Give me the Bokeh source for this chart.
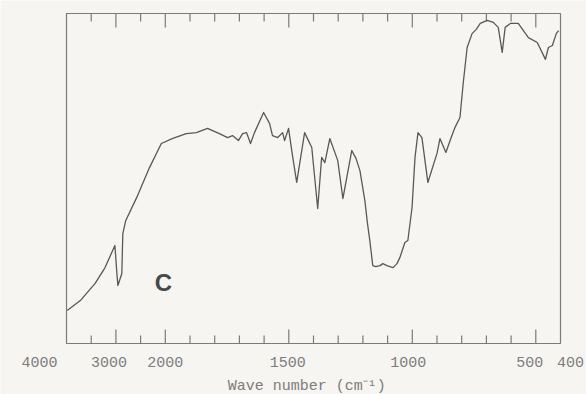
import numpy as np
from bokeh.plotting import figure
from bokeh.models import Range1d, ColumnDataSource
from bokeh.core.properties import value
from bokeh.embed import file_html
from bokeh.resources import INLINE

# IR spectrum, sample C: wavenumber (cm-1) and transmittance (%)
wavenumber = [3986, 3720, 3420, 3220, 3020, 2980, 2960, 2880, 2860, 2800,
              2580, 2320, 2080, 1972, 1915, 1874, 1829, 1781, 1748, 1728,
              1704, 1687, 1671, 1655, 1639, 1602, 1578, 1566, 1545, 1525,
              1517, 1501, 1484, 1468, 1436, 1407, 1383, 1367, 1354, 1334,
              1302, 1281, 1245, 1228, 1212, 1192, 1182, 1172, 1160, 1148,
              1131, 1119, 1103, 1078, 1062, 1050, 1030, 1018, 1001, 989,
              977, 961, 937, 900, 888, 864, 847, 827, 807, 794,
              778, 758, 741, 725, 697, 672, 652, 636, 624, 603,
              571, 530, 494, 461, 449, 433, 417, 408]
transmittance = [10.0, 13.0, 18.2, 23.0, 29.7, 21.2, 17.6, 21.2, 33.3, 37.3,
                 44.2, 53.3, 60.6, 62.1, 63.6, 63.9, 65.2, 63.6, 62.4, 63.0,
                 61.5, 63.6, 63.9, 60.6, 63.9, 70.0, 66.7, 63.0, 62.4, 63.9,
                 61.5, 65.2, 56.4, 48.8, 63.9, 59.4, 40.9, 56.4, 54.8, 62.1,
                 55.5, 43.9, 58.5, 56.1, 52.4, 43.3, 36.7, 31.2, 23.6, 23.3,
                 23.6, 24.2, 23.6, 23.0, 24.2, 26.1, 30.6, 31.2, 41.2, 56.4,
                 63.9, 62.4, 48.8, 57.6, 62.1, 57.9, 61.5, 65.5, 68.5, 78.8,
                 89.7, 93.9, 95.2, 97.0, 97.9, 97.3, 95.8, 88.2, 95.8, 97.0,
                 97.0, 92.7, 91.2, 86.1, 89.7, 90.3, 93.9, 94.8]

major_ticks = [3000, 2000, 1500, 1000, 500]
minor_ticks = [3500, 2500, 1900, 1800, 1700, 1600, 1400, 1300, 1200, 1100,
               900, 800, 700, 600]
tick_labels = [4000, 3000, 2000, 1500, 1000, 500, 400]
label_shift = [-27, -7, 0, -1, -4, -6, 10]

W_MAX, W_BREAK, W_MIN = 4000, 2000, 400
T_MIN, T_MAX = 0, 100


def to_axis(w):
    """Chart scale with a change of scale at 2000 cm-1."""
    w = np.asarray(w, dtype=float)
    return np.where(w >= W_BREAK, (W_MAX - w) / 20.0,
                    100 + (W_BREAK - w) / 4.0)


ink = "#585858"
rule = "#7a7a7a"
paper = "#f6f5f2"

# plot box sits at 66..560 px across and 13..343 px down the 586x394 page
u_lo, u_hi = float(to_axis(W_MAX)), float(to_axis(W_MIN))
px_u = (560 - 66) / (u_hi - u_lo)
px_t = (343 - 13) / (T_MAX - T_MIN)

p = figure(width=586, height=394, output_backend="svg", toolbar_location=None,
           x_range=Range1d(u_lo - 66 / px_u, u_hi + 26 / px_u),
           y_range=Range1d(T_MIN - 51 / px_t, T_MAX + 13 / px_t),
           min_border=0, outline_line_color=None)
p.axis.visible = False
p.grid.visible = False
p.background_fill_color = paper
p.border_fill_color = paper

# plot box
p.quad(left=[u_lo], right=[u_hi], bottom=[T_MIN], top=[T_MAX],
       fill_color=None, line_color=rule, line_width=1.2)

# inward ticks on the bottom and top edges
for ticks, length in ((major_ticks, 14), (minor_ticks, 8)):
    xs = to_axis(ticks)
    p.ray(x=xs, y=[T_MIN] * len(xs), length=length, length_units="screen",
          angle=np.pi / 2, line_color=rule, line_width=1.2)
    p.ray(x=xs, y=[T_MAX] * len(xs), length=length, length_units="screen",
          angle=-np.pi / 2, line_color=rule, line_width=1.2)

# spectrum
p.line(to_axis(wavenumber), transmittance, line_color=ink, line_width=1.3,
       line_join="round")

# tick labels and axis title
lab = ColumnDataSource(dict(x=to_axis(tick_labels), y=[T_MIN] * len(tick_labels),
                            text=[str(w) for w in tick_labels],
                            dx=label_shift))
p.text(x="x", y="y", text="text", x_offset="dx", y_offset=18, source=lab,
       text_align="center", text_baseline="middle",
       text_font=value("Liberation Mono"), text_font_size="15px",
       text_color="#7c7c7c")
p.text(x=[float(to_axis(1500))], y=[T_MIN], text=["Wave number (cm\u207b\u00b9)"],
       x_offset=18, y_offset=43, text_align="center", text_baseline="middle",
       text_font=value("Liberation Mono"), text_font_size="15px",
       text_color="#7c7c7c")

# sample letter
p.text(x=[float(to_axis(2040))], y=[18.5], text=["C"], text_align="center",
       text_baseline="middle", text_font=value("Liberation Sans"),
       text_font_style="bold", text_font_size="24px", text_color="#484848")

open("out.html", "w").write(file_html(p, INLINE))
